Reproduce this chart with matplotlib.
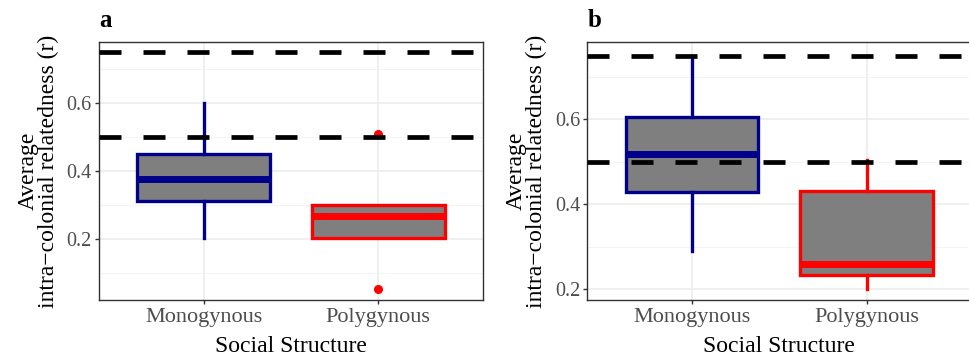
import matplotlib
matplotlib.use("Agg")
import matplotlib.pyplot as plt
from matplotlib.ticker import FixedLocator

plt.rcParams['font.family'] = ['Liberation Serif', 'DejaVu Serif']

categories = ["Monogynous", "Polygynous"]
box_colors = ["#00008B", "#FF0000"]
ref_lines = [0.5, 0.75]

# panel a
a_whislo = [0.203, 0.202]
a_q1 = [0.311, 0.202]
a_med = [0.375, 0.267]
a_q3 = [0.451, 0.299]
a_whishi = [0.602, 0.299]
a_fliers = [[], [0.508, 0.051]]

# panel b
b_whislo = [0.290, 0.201]
b_q1 = [0.429, 0.233]
b_med = [0.518, 0.260]
b_q3 = [0.605, 0.430]
b_whishi = [0.750, 0.505]
b_fliers = [[], []]

y_ticks = [0.2, 0.4, 0.6]
y_minor = [0.1, 0.3, 0.5, 0.7]

W, H = 970, 357
fig = plt.figure(figsize=(W / 100, H / 100), dpi=100)

panels = [
    dict(label="a", left=99, whislo=a_whislo, q1=a_q1, med=a_med, q3=a_q3,
         whishi=a_whishi, fliers=a_fliers, ylim=(0.019, 0.781)),
    dict(label="b", left=587.3, whislo=b_whislo, q1=b_q1, med=b_med, q3=b_q3,
         whishi=b_whishi, fliers=b_fliers, ylim=(0.174, 0.782)),
]

ax_w = 384
ax_top, ax_bot = 42, 300

dash_lw = 3.4
dash_pt = 22 * 0.72

for p in panels:
    ax = fig.add_axes([p["left"] / W, (H - ax_bot) / H, ax_w / W, (ax_bot - ax_top) / H])
    positions = list(range(1, len(categories) + 1))
    ax.set_xlim(0.4, len(categories) + 0.6)
    ax.set_ylim(*p["ylim"])

    # grid
    ax.yaxis.set_major_locator(FixedLocator(y_ticks))
    ax.yaxis.set_minor_locator(FixedLocator(y_minor))
    ax.set_yticks(y_ticks)
    ax.set_yticklabels([f"{v:.1f}" for v in y_ticks])
    ax.grid(True, which="major", color="#EBEBEB", lw=1.1, zorder=0)
    ax.grid(True, which="minor", axis="y", color="#F2F2F2", lw=0.6, zorder=0)
    ax.set_axisbelow(True)

    stats = []
    for i in range(len(categories)):
        stats.append(dict(whislo=p["whislo"][i], q1=p["q1"][i], med=p["med"][i],
                          q3=p["q3"][i], whishi=p["whishi"][i], fliers=p["fliers"][i]))
    for i, st in enumerate(stats):
        c = box_colors[i]
        ax.bxp([st], positions=[positions[i]], widths=0.76, patch_artist=True,
               showcaps=False, showfliers=True,
               boxprops=dict(facecolor="#7F7F7F", edgecolor=c, lw=2.4),
               whiskerprops=dict(color=c, lw=2.4),
               medianprops=dict(color=c, lw=5.0, solid_capstyle="butt"),
               flierprops=dict(marker="o", markerfacecolor=c, markeredgecolor=c,
                               markersize=5.5, linestyle="none"),
               manage_ticks=False, zorder=2)

    for r in ref_lines:
        ax.axhline(r, color="black", lw=dash_lw,
                   dashes=(dash_pt / dash_lw, dash_pt / dash_lw), zorder=3)

    ax.set_xticks(positions)
    ax.set_xticklabels(categories)
    for s in ax.spines.values():
        s.set_color("#333333")
        s.set_linewidth(1.0)
    ax.tick_params(axis="both", which="major", length=3.2, width=1.0, color="#333333",
                   labelcolor="#4D4D4D")
    ax.tick_params(axis="y", which="minor", length=0)
    ax.tick_params(axis="y", labelsize=14.5, pad=2)
    ax.tick_params(axis="x", labelsize=16, pad=2.5)

    ax.set_xlabel("Social Structure", fontsize=17, labelpad=6.5)
    ax.set_ylabel("Average\nintra\u2212colonial relatedness (r)", fontsize=17,
                  linespacing=0.95)
    ax.yaxis.set_label_coords(-0.105, 0.5)

    ax.text(0.0, 1.058, p["label"], transform=ax.transAxes, fontsize=18,
            fontweight="bold", ha="left", va="baseline")

fig.savefig("out.png", dpi=100)
